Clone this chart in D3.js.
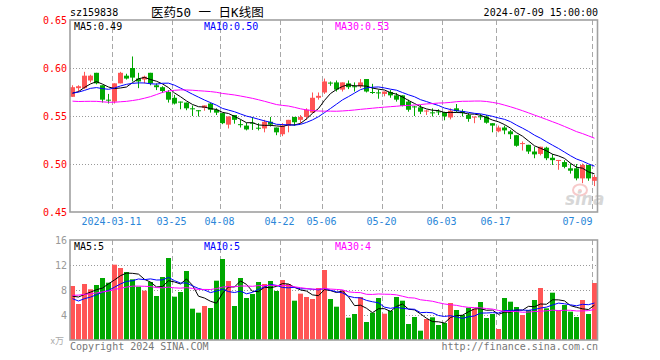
<!DOCTYPE html>
<html><head><meta charset="utf-8">
<script src="https://cdn.jsdelivr.net/npm/d3@7"></script>
<style>
body{margin:0;background:#fff}
svg{display:block}
text{font-family:"DejaVu Sans Mono","Liberation Mono",monospace;font-size:10px}
</style>
</head><body>
<svg id="c" width="660" height="360"></svg>
<script>
// ---------------- data ----------------
const dates = [
"2024-02-29",
"2024-03-01","2024-03-04","2024-03-05","2024-03-06","2024-03-07","2024-03-08","2024-03-11","2024-03-12","2024-03-13","2024-03-14","2024-03-15",
"2024-03-18","2024-03-19","2024-03-20","2024-03-21","2024-03-22","2024-03-25","2024-03-26","2024-03-27","2024-03-28","2024-03-29",
"2024-04-01","2024-04-02","2024-04-03","2024-04-08","2024-04-09","2024-04-10","2024-04-11","2024-04-12","2024-04-15","2024-04-16",
"2024-04-17","2024-04-18","2024-04-19","2024-04-22","2024-04-23","2024-04-24","2024-04-25","2024-04-26","2024-04-29","2024-04-30",
"2024-05-06","2024-05-07","2024-05-08","2024-05-09","2024-05-10","2024-05-13","2024-05-14","2024-05-15","2024-05-16","2024-05-17",
"2024-05-20","2024-05-21","2024-05-22","2024-05-23","2024-05-24","2024-05-27","2024-05-28","2024-05-29","2024-05-30","2024-05-31",
"2024-06-03","2024-06-04","2024-06-05","2024-06-06","2024-06-07","2024-06-11","2024-06-12","2024-06-13","2024-06-14",
"2024-06-17","2024-06-18","2024-06-19","2024-06-20","2024-06-21","2024-06-24","2024-06-25","2024-06-26","2024-06-27","2024-06-28",
"2024-07-01","2024-07-02","2024-07-03","2024-07-04","2024-07-05","2024-07-08","2024-07-09"];

const open  = [0.570,0.579,0.579,0.587,0.595,0.582,0.567,0.565,0.584,0.592,0.600,0.589,0.588,0.595,0.582,0.580,0.575,0.569,0.565,0.564,
0.558,0.556,0.5585,0.563,0.5565,0.553,0.541,0.551,0.5415,0.540,0.543,0.5378,0.537,0.544,0.538,0.531,0.540,0.549,0.546,0.549,
0.5535,0.569,0.5745,0.5848,0.585,0.5775,0.584,0.581,0.581,0.5885,0.575,0.5746,0.573,0.575,0.5715,0.5715,0.565,0.560,0.559,0.5554,
0.5538,0.5548,0.554,0.5485,0.558,0.555,0.551,0.5492,0.5497,0.5494,0.5425,0.534,0.538,0.534,0.530,0.5214,0.520,0.513,0.5105,0.517,
0.5065,0.504,0.502,0.4955,0.4955,0.485,0.499,0.4825];
const high  = [0.582,0.582,0.596,0.593,0.595,0.582,0.573,0.584,0.596,0.594,0.612,0.595,0.592,0.595,0.584,0.581,0.577,0.572,0.565,0.564,
0.561,0.556,0.561,0.564,0.558,0.553,0.5495,0.551,0.546,0.543,0.549,0.5425,0.546,0.549,0.538,0.5425,0.546,0.549,0.551,0.558,
0.5745,0.5745,0.589,0.586,0.587,0.585,0.587,0.585,0.5885,0.5885,0.5835,0.5775,0.5755,0.577,0.574,0.5715,0.567,0.5605,0.5615,0.5565,
0.558,0.557,0.5545,0.558,0.5625,0.557,0.553,0.5494,0.552,0.551,0.5425,0.540,0.540,0.5355,0.530,0.5235,0.520,0.518,0.518,0.518,
0.5105,0.5042,0.504,0.5005,0.500,0.5005,0.499,0.4885];
const low   = [0.570,0.575,0.578,0.585,0.583,0.564,0.563,0.563,0.584,0.588,0.586,0.579,0.584,0.582,0.577,0.574,0.564,0.562,0.557,0.556,
0.550,0.5495,0.5555,0.5535,0.551,0.5415,0.537,0.542,0.538,0.535,0.5355,0.535,0.533,0.539,0.530,0.529,0.533,0.540,0.5425,0.546,
0.553,0.567,0.573,0.5815,0.5755,0.5755,0.578,0.5755,0.579,0.5745,0.573,0.568,0.5705,0.569,0.565,0.560,0.5545,0.550,0.552,0.551,
0.5495,0.551,0.5455,0.5465,0.5535,0.5495,0.544,0.5425,0.546,0.542,0.533,0.533,0.531,0.526,0.518,0.514,0.5105,0.506,0.509,0.504,
0.499,0.494,0.4955,0.490,0.483,0.480,0.4825,0.477];
const close = [0.580,0.581,0.592,0.592,0.584,0.567,0.566,0.584,0.595,0.589,0.590,0.586,0.591,0.584,0.580,0.576,0.567,0.563,0.5645,0.558,
0.5575,0.5555,0.561,0.5565,0.5535,0.5425,0.5495,0.546,0.541,0.536,0.5428,0.5375,0.544,0.541,0.533,0.540,0.546,0.5435,0.549,0.5565,
0.569,0.571,0.586,0.5846,0.5775,0.585,0.580,0.580,0.585,0.5755,0.5748,0.5745,0.5755,0.5715,0.567,0.5605,0.5565,0.5598,0.5545,0.5557,
0.5535,0.5546,0.5495,0.5555,0.555,0.553,0.547,0.5494,0.5494,0.543,0.540,0.538,0.535,0.531,0.519,0.5218,0.513,0.510,0.518,0.506,
0.504,0.5042,0.497,0.493,0.485,0.499,0.485,0.4865];
// volume (chart units)
const volume = [8.64,5.76,8.96,8.11,8.8,9.92,9.17,12.05,11.52,10.88,9.71,8.53,7.89,9.28,7.04,10.08,13.12,6.93,7.68,11.04,
5.01,4.37,5.44,5.12,9.49,12.96,9.44,5.44,9.92,6.72,7.36,9.28,8.96,9.44,7.84,9.6,8.96,6.29,7.41,6.88,
6.56,8.32,11.2,6.56,5.33,7.89,3.57,4.16,6.88,2.88,4.37,6.72,4.21,4.69,6.88,6.29,2.56,3.68,1.49,3.36,
3.63,2.40,2.72,5.92,4.8,4.0,5.17,5.01,6.08,3.52,4.16,1.76,6.72,6.13,5.28,4.0,4.8,6.4,8.32,5.07,
7.57,4.75,5.6,4.53,3.68,6.4,4.16,9.12];
// sessions before the visible window (needed for the moving averages)
const prevCloses = [0.592,0.588,0.590,0.585,0.583,0.578,0.584,0.580,0.576,0.565,0.556,0.548,0.535,0.515,0.508,0.525,0.540,0.552,
0.560,0.566,0.570,0.574,0.571,0.576,0.578,0.573,0.570,0.574,0.572];
const prevVolumes = [4.8,5.2,5.5,4.6,5.0,5.3,4.9,5.1,5.4,5.0,8.2,9.0,10.5,12.0,11.2,9.8,10.4,9.0,8.6,8.8,9.5,5.2,5.6,5.0,5.8,6.4,6.9,6.3,6.8];

const priceTicks = [0.65,0.60,0.55,0.50,0.45];
const priceTickLabels = ["0.65","0.60","0.55","0.50","0.45"];
const volTicks = [16,12,8,4];
const dateTicks = ["2024-03-11","2024-03-25","2024-04-08","2024-04-22","2024-05-06","2024-05-20","2024-06-03","2024-06-17","2024-07-09"];
const dateTickLabels = ["2024-03-11","03-25","04-08","04-22","05-06","05-20","06-03","06-17","07-09"];
const maPeriods = [5,10,30];
const maColors = ["#000000","#0000ff","#ff00ff"];
const priceMaLabels = ["MA5:0.49","MA10:0.50","MA30:0.53"];
const volMaLabels = ["MA5:5","MA10:5","MA30:4"];
const titleCode = "sz159838";
const titleName = "医药50 一 日K线图";
const titleTime = "2024-07-09 15:00:00";
const volUnit = "x万";
const footerLeft = "Copyright 2024 SINA.COM";
const footerRight = "http://finance.sina.com.cn";

// ---------------- layout ----------------
const svg = d3.select("#c");
const L = 70, R = 597.5;
const pTop = 20, pBot = 212;
const vTop = 240, vBot = 340;
const UP = "#ff5555", DOWN = "#00a800", GRID = "#a8a8a8";

const x = d3.scaleBand().domain(dates).range([69.5, 597.5]).paddingInner(0).paddingOuter(0);
const cx = d => x(d) + x.bandwidth() / 2;
const y = d3.scaleLinear().domain([0.45, 0.65]).range([pBot, pTop]);
const yv = d3.scaleLinear().domain([0, 16]).range([vBot, vTop]);

function movingAvg(series, prev, n) {
  const all = prev.concat(series);
  return series.map((_, i) => {
    const end = i + prev.length;
    return d3.mean(all.slice(end - n + 1, end + 1));
  });
}

// header
svg.append("text").attr("x", 70).attr("y", 12).attr("dominant-baseline", "central").text(titleCode);
svg.append("text").attr("x", 151).attr("y", 12).attr("dominant-baseline", "central")
  .style("font-family", "'DejaVu Sans Mono','Noto Sans CJK SC',monospace").style("font-size", "12.5px").text(titleName);
svg.append("text").attr("x", 598).attr("y", 12).attr("text-anchor", "end").attr("dominant-baseline", "central").text(titleTime);

// grids
function hGrid(scale, ticks, skip) {
  svg.append("g").selectAll("line").data(ticks.filter(t => !skip.includes(t))).join("line")
    .attr("x1", L).attr("x2", R)
    .attr("y1", d => Math.round(scale(d)) + 0.5).attr("y2", d => Math.round(scale(d)) + 0.5)
    .attr("stroke", "#999").attr("stroke-dasharray", "1,2");
}
hGrid(y, priceTicks, [0.65, 0.45]);
hGrid(yv, volTicks, [16]);

function vGrid(t, b) {
  svg.append("g").selectAll("line").data(dateTicks).join("line")
    .attr("x1", d => x(d) + 1).attr("x2", d => x(d) + 1)
    .attr("y1", t).attr("y2", b)
    .attr("stroke", GRID).attr("stroke-dasharray", "5,3");
}
vGrid(pTop, pBot);
vGrid(vTop, vBot);

// watermark
const wm = svg.append("g").attr("opacity", 0.55);
wm.append("ellipse").attr("cx", 580).attr("cy", 190).attr("rx", 7).attr("ry", 5.5).attr("fill", "none").attr("stroke", "#f2a0a0").attr("stroke-width", 2);
wm.append("circle").attr("cx", 580).attr("cy", 191).attr("r", 2).attr("fill", "#f2a0a0");
wm.append("text").attr("x", 565).attr("y", 205).style("font-family", "'DejaVu Sans',sans-serif")
  .style("font-size", "17px").style("font-weight", "bold").style("font-style", "italic").attr("fill", "#b8b8b8").text("sina");

// candles
const idx = d3.range(dates.length);
const cg = svg.append("g");
cg.selectAll("line").data(idx).join("line")
  .attr("x1", i => cx(dates[i])).attr("x2", i => cx(dates[i]))
  .attr("y1", i => y(high[i])).attr("y2", i => y(low[i]))
  .attr("stroke", i => close[i] >= open[i] ? UP : DOWN).attr("stroke-width", 1);
cg.selectAll("rect").data(idx).join("rect")
  .attr("x", i => cx(dates[i]) - 2.5).attr("width", 5)
  .attr("y", i => Math.min(y(open[i]), y(close[i])))
  .attr("height", i => Math.max(1, Math.abs(y(open[i]) - y(close[i]))))
  .attr("fill", i => close[i] >= open[i] ? UP : DOWN);

// volume bars
svg.append("g").selectAll("rect").data(idx).join("rect")
  .attr("x", i => cx(dates[i]) - 2.5).attr("width", 5)
  .attr("y", i => yv(volume[i])).attr("height", i => vBot - yv(volume[i]))
  .attr("fill", i => close[i] >= open[i] ? UP : DOWN);

// moving averages
maPeriods.forEach((n, k) => {
  const pm = movingAvg(close, prevCloses, n);
  svg.append("path").datum(idx)
    .attr("d", d3.line().x(i => cx(dates[i])).y(i => y(pm[i])))
    .attr("fill", "none").attr("stroke", maColors[k]).attr("stroke-width", 1);
  const vm = movingAvg(volume, prevVolumes, n);
  svg.append("path").datum(idx)
    .attr("d", d3.line().x(i => cx(dates[i])).y(i => yv(vm[i])))
    .attr("fill", "none").attr("stroke", maColors[k]).attr("stroke-width", 1);
});

// frames
svg.append("rect").attr("x", L).attr("y", pTop).attr("width", R - L).attr("height", pBot - pTop)
  .attr("fill", "none").attr("stroke", "#a0a0a0").attr("stroke-width", 1.6);
svg.append("rect").attr("x", L).attr("y", vTop).attr("width", R - L).attr("height", vBot - vTop)
  .attr("fill", "none").attr("stroke", "#a0a0a0").attr("stroke-width", 1.6);

// axis labels
svg.append("g").selectAll("text").data(priceTicks).join("text")
  .attr("x", 67).attr("y", d => y(d)).attr("text-anchor", "end").attr("dominant-baseline", "central")
  .attr("fill", "#ff0000").text((d, i) => priceTickLabels[i]);
svg.append("g").selectAll("text").data(volTicks).join("text")
  .attr("x", 67).attr("y", d => yv(d)).attr("text-anchor", "end").attr("dominant-baseline", "central")
  .attr("fill", "#999").text(d => d);
svg.append("text").attr("x", 64).attr("y", vBot).attr("text-anchor", "end").attr("dominant-baseline", "central")
  .style("font-family", "'Noto Sans CJK SC',sans-serif").style("font-size", "9px").attr("fill", "#aaa").text(volUnit);

svg.append("g").selectAll("text").data(dateTicks).join("text")
  .attr("x", (d, i) => i === dateTicks.length - 1 ? x(d) + 1 : x(d))
  .attr("y", 221).attr("dominant-baseline", "central")
  .attr("text-anchor", (d, i) => i === dateTicks.length - 1 ? "end" : "middle")
  .attr("fill", "#2a86d8").text((d, i) => dateTickLabels[i]);

// MA legends
const legX = [74, 204, 335];
priceMaLabels.forEach((t, k) => svg.append("text").attr("x", legX[k]).attr("y", 26).attr("dominant-baseline", "central").attr("fill", maColors[k]).text(t));
volMaLabels.forEach((t, k) => svg.append("text").attr("x", legX[k]).attr("y", 246.5).attr("dominant-baseline", "central").attr("fill", maColors[k]).text(t));

// footer
svg.append("text").attr("x", 70).attr("y", 346).attr("dominant-baseline", "central").attr("fill", "#777").text(footerLeft);
svg.append("text").attr("x", 598).attr("y", 346).attr("text-anchor", "end").attr("dominant-baseline", "central").attr("fill", "#777").text(footerRight);
</script>
</body></html>
